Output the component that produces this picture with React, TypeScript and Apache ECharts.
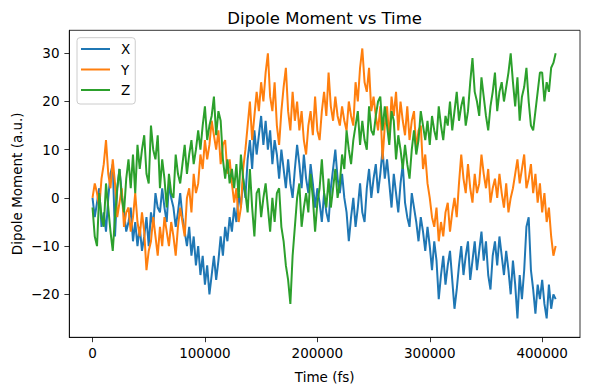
import React, { useEffect, useRef } from "react";
import * as echarts from "echarts";

// Sampling step of the time axis (fs)
const TIME_STEP_FS = 2000;

// Dipole moment components (a.u.)
const dipoleX = [
  0, -4, -1, 2, -6, -3, -7, 0, 5, 7,
  -8, 2, 6, 1, -3, -7, -5, -2, -9, -5,
  -10, -6, -11, -8, -4, -10, -3, -6, 1, -2,
  -3, 2, -2, -5, 3, 0, -2, -6, -3, 1,
  -4, -7, -10, -6, -12, -8, -14, -10, -16, -12,
  -18, -14, -20, -16, -12, -17, -13, -8, -12, -6,
  -9, -4, -7, -2, -5, 1, -2, 4, 0, 8,
  12, 6, 14, 9, 13, 17, 11, 16, 10, 14,
  7, 12, 9, 4, 10, 6, 2, 8, 3, 0,
  6, 11, 7, 2, 9, 4, 1, 7, 3, -2,
  2, -1, -5, 1, -3, -5, 2, 6, 10, 4,
  1, 5, 0, -3, -9, -4, 0, -6, -2, 3,
  -3, -5, 2, 6, 0, 4, 7, 1, 5, 10,
  4, 8, 3, -2, 5, 1, -3, 3, 7, -1,
  -4, -6, 1, -2, -5, -9, -4, -7, -11, -6,
  -10, -15, -9, -13, -21, -16, -12, -18, -14, -11,
  -17, -23, -19, -14, -10, -16, -12, -9, -17, -13,
  -9, -15, -11, -7, -13, -9, -16, -19, -12, -9,
  -14, -8, -12, -16, -11, -15, -20, -13, -18, -25,
  -16, -21, -15, -6, -4, -15, -19, -24, -18, -21,
  -17, -22, -25, -18, -23, -20, -21,
];

const dipoleY = [
  0, 3, 1, -2, 4, 7, 12, 5, 2, 8,
  3, -4, -1, 2, -6, -3, -2, -7, -4, 1,
  -5, -8, -3, -7, -15, -11, -9, -4, -8, -12,
  -6, -10, -4, -7, -10, -5, -8, -12, -6, -2,
  -5, -8, 0, 2, -3, 5, 1, 3, 9, 6,
  12, 8, 11, 16, 13, 10, 14, 7, 11, 12,
  5, 8, 3, -1, 2, -5, -2, 6, 10, 15,
  20, 12, 17, 22, 18, 24, 20, 26, 30, 21,
  18, 24, 15, 11, 18, 23, 27, 18, 14, 22,
  16, 20, 14, 18, 12, 9, 15, 18, 13, 21,
  14, 12, 18, 22, 17, 26, 19, 16, 21, 17,
  15, 19, 16, 14, 20, 17, 15, 24, 20, 27,
  31, 24, 22, 27, 18, 21, 17, 14, 19, 8,
  15, 19, 12, 21, 17, 22, 14, 20, 16, 13,
  19, 12, 16, 18, 10, 14, 15, 6, 9, 3,
  0, -4, -6, -2, -9, -5, -8, -3, -1, -7,
  -3, 0, -4, 3, 9, 4, 1, 7, 2, -1,
  5, 1, 3, 9, 5, 2, 6, -1, 2, 4,
  0, 5, 1, -2, 3, -3, 0, 2, 5, 8,
  3, 6, 9, 2, 4, 7, 1, 5, -1, 3,
  -3, 1, -5, -2, -8, -12, -10,
];

const dipoleZ = [
  -2, -8, -10, 1, -4, -6, 3, -2, -7, -11,
  -4, 2, 6, 0, -3, 4, 8, 2, 9, 1,
  11, 6, 10, 13, 5, 3, 15, 10, 8, 13,
  2, 8, 4, -2, 5, 1, 0, 9, 5, 3,
  7, 11, 5, 9, 12, 7, 10, 14, 10, 15,
  19, 12, 15, 17, 21, 13, 18, 16, 8, 4,
  8, 3, 6, 2, 7, 0, 9, 4, 1, -3,
  6, -2, -8, 1, 2, -4, 0, 3, -2, -7,
  0, -5, 1, 2, -6, -9, -14, -17, -22, -12,
  -6, 0, 3, -6, -2, 1, -3, 5, 0, -7,
  -1, 2, 8, 1, -2, 4, -2, 2, 6, 0,
  3, 9, 6, 14, 10, 7, 12, 15, 18, 11,
  16, 12, 10, 19, 14, 13, 17, 20, 21, 14,
  19, 15, 11, 18, 16, 8, 13, 10, 6, 11,
  7, 4, 10, 14, 9, 12, 18, 15, 12, 16,
  11, 17, 14, 12, 19, 15, 12, 17, 15, 20,
  14, 18, 22, 16, 19, 21, 15, 18, 24, 29,
  22, 20, 17, 25, 21, 17, 14, 19, 22, 26,
  18, 22, 24, 20, 23, 26, 30, 24, 19, 25,
  16, 21, 23, 27, 20, 15, 14, 18, 22, 26,
  26, 20, 24, 22, 27, 28, 30,
];

const seriesNames = ["X", "Y", "Z"];
const seriesColors = ["#1f77b4", "#ff7f0e", "#2ca02c"];
const xTicks = [0, 100000, 200000, 300000, 400000];
const yTicks = [-20, -10, 0, 10, 20, 30];

const FONT = "DejaVu Sans";

const toPairs = (vals: number[]) => vals.map((v, i) => [i * TIME_STEP_FS, v]);

export default function App() {
  const ref = useRef<HTMLDivElement>(null);

  useEffect(() => {
    if (!ref.current) return;
    const chart = echarts.init(ref.current, undefined, { renderer: "svg" });
    const gridLeft = 69.3;
    const gridRight = 580;
    const gridTop = 30.3;
    const gridBottom = 337.3;
    const cx = (gridLeft + gridRight) / 2;
    const cy = (gridTop + gridBottom) / 2;

    const allSeries = [dipoleX, dipoleY, dipoleZ];

    const axisCommon = {
      axisLine: { show: true, onZero: false, lineStyle: { color: "#000", width: 0.8 } },
      splitLine: { show: false },
    };

    chart.setOption({
      animation: false,
      backgroundColor: "#ffffff",
      textStyle: { fontFamily: FONT },
      grid: {
        left: gridLeft,
        right: 590 - gridRight,
        top: gridTop,
        bottom: 390 - gridBottom,
        show: true,
        borderColor: "#000",
        borderWidth: 0.8,
        containLabel: false,
        outerBoundsMode: "none",
      },
      xAxis: {
        type: "value",
        min: -20650,
        max: 433650,
        ...axisCommon,
        axisTick: {
          show: true,
          inside: false,
          length: 4.9,
          lineStyle: { color: "#000", width: 0.8 },
          customValues: xTicks,
        },
        axisLabel: {
          customValues: xTicks,
          margin: 9,
          color: "#000",
          fontSize: 13.5,
          fontFamily: FONT,
          formatter: (v: number) => String(v),
        },
      },
      yAxis: {
        type: "value",
        min: -28.92,
        max: 34.77,
        ...axisCommon,
        axisTick: {
          show: true,
          inside: false,
          length: 4.9,
          lineStyle: { color: "#000", width: 0.8 },
          customValues: yTicks,
        },
        axisLabel: {
          customValues: yTicks,
          margin: 9.8,
          color: "#000",
          fontSize: 13.5,
          fontFamily: FONT,
          formatter: (v: number) => (v < 0 ? "\u2212" + Math.abs(v) : String(v)),
        },
      },
      legend: {
        data: seriesNames.map((n) => ({
          name: n,
          icon: "path://M0,0 L29,0 L29,2 L0,2 Z",
        })),
        orient: "vertical",
        left: 77,
        top: 37.7,
        itemWidth: 29,
        itemHeight: 14,
        itemGap: 6.5,
        symbolKeepAspect: true,
        padding: [4.3, 5, 7, 4],
        backgroundColor: "rgba(255,255,255,0.8)",
        borderColor: "#cccccc",
        borderWidth: 1,
        borderRadius: 3,
        textStyle: {
          fontSize: 13.5,
          color: "#000",
          fontFamily: FONT,
          padding: [0, 0, 0, 6],
        },
      },
      graphic: [
        {
          type: "text",
          x: cx,
          y: 18,
          style: {
            text: "Dipole Moment vs Time",
            font: `16.5px "${FONT}"`,
            fill: "#000",
            align: "center",
            verticalAlign: "middle",
            textAlign: "center",
            textVerticalAlign: "middle",
          },
        },
        {
          type: "text",
          x: cx,
          y: 377,
          style: {
            text: "Time (fs)",
            font: `13.5px "${FONT}"`,
            fill: "#000",
            align: "center",
            verticalAlign: "middle",
            textAlign: "center",
            textVerticalAlign: "middle",
          },
        },
        {
          type: "text",
          x: 17,
          y: cy,
          rotation: Math.PI / 2,
          style: {
            text: "Dipole Moment (a.u.)",
            font: `13.5px "${FONT}"`,
            fill: "#000",
            align: "center",
            verticalAlign: "middle",
            textAlign: "center",
            textVerticalAlign: "middle",
          },
        },
      ],
      series: allSeries.map((vals, i) => ({
        name: seriesNames[i],
        type: "line",
        data: toPairs(vals),
        showSymbol: false,
        symbol: "none",
        color: seriesColors[i],
        lineStyle: { color: seriesColors[i], width: 2 },
        z: 2 + i,
      })),
    });

    return () => chart.dispose();
  }, []);

  return (
    <div
      ref={ref}
      style={{ position: "fixed", left: 0, top: 0, width: 590, height: 390 }}
    />
  );
}
